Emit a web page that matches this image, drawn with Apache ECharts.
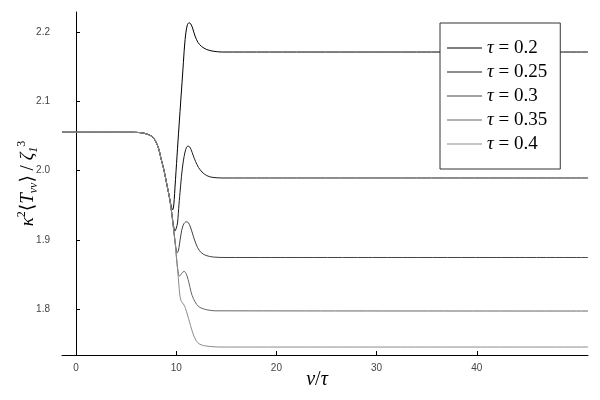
<!DOCTYPE html>
<html>
<head>
<meta charset="utf-8">
<script src="https://cdn.jsdelivr.net/npm/echarts@6/dist/echarts.min.js"></script>
<style>html,body{margin:0;padding:0;background:#fff}#c{width:600px;height:400px}</style>
</head>
<body>
<div id="c"></div>
<script>
// ---- data ----
const xTicks = [0, 10, 20, 30, 40];
const yTicks = [1.8, 1.9, 2.0, 2.1, 2.2];
const tauLabels = ['0.2', '0.25', '0.3', '0.35', '0.4'];
const lineColors = ['#000000', '#1c1c1c', '#444444', '#666666', '#8c8c8c'];

// shared initial plateau and descent (v/tau, value)
const headX = [-1.4, 5.5, 6.5, 7.2, 7.72, 8.22, 8.47, 8.72, 8.9, 9.06];
const headY = [2.0552, 2.0552, 2.0546, 2.0520, 2.0474, 2.0329, 2.0180, 2.0040, 1.9920, 1.9801];

const x020 = [9.28, 9.42, 9.55, 9.64, 9.72, 9.80, 9.88, 10.08, 10.28, 10.48, 10.68, 10.83, 10.96, 11.11, 11.28, 11.46, 11.63, 11.88, 12.18, 12.53, 13.05, 13.68, 14.58, 51.1];
const y020 = [1.9646, 1.9540, 1.9465, 1.9432, 1.9460, 1.9580, 1.9760, 2.0209, 2.0643, 2.1061, 2.1480, 2.1798, 2.1986, 2.2101, 2.2134, 2.2115, 2.2058, 2.1942, 2.1848, 2.1791, 2.1747, 2.1723, 2.1711, 2.1711];

const x025 = [9.28, 9.46, 9.61, 9.74, 9.88, 10.01, 10.13, 10.28, 10.41, 10.56, 10.71, 10.88, 11.03, 11.18, 11.33, 11.48, 11.68, 11.93, 12.23, 12.58, 13.03, 13.58, 14.58, 51.1];
const y025 = [1.9646, 1.9487, 1.9329, 1.9199, 1.9126, 1.9170, 1.9242, 1.9516, 1.9733, 1.9964, 2.0137, 2.0267, 2.0335, 2.0354, 2.0342, 2.0303, 2.0224, 2.0130, 2.0043, 1.9978, 1.9928, 1.9902, 1.9892, 1.9892];

const x030 = [9.28, 9.46, 9.61, 9.76, 9.90, 10.01, 10.11, 10.21, 10.33, 10.48, 10.63, 10.78, 10.93, 11.08, 11.23, 11.38, 11.58, 11.83, 12.13, 12.48, 12.98, 13.68, 14.87, 51.1];
const y030 = [1.9646, 1.9487, 1.9314, 1.9126, 1.8953, 1.8852, 1.8813, 1.8838, 1.8939, 1.9083, 1.9184, 1.9235, 1.9256, 1.9259, 1.9242, 1.9199, 1.9112, 1.8996, 1.8888, 1.8816, 1.8773, 1.8751, 1.8744, 1.8744];

const x035 = [9.28, 9.46, 9.61, 9.76, 9.90, 10.03, 10.15, 10.24, 10.31, 10.41, 10.53, 10.68, 10.81, 10.93, 11.08, 11.28, 11.48, 11.71, 12.05, 12.38, 13.05, 13.88, 51.1];
const y035 = [1.9646, 1.9487, 1.9314, 1.9126, 1.8953, 1.8736, 1.8578, 1.8498, 1.8477, 1.8484, 1.8513, 1.8537, 1.8542, 1.8527, 1.8477, 1.8376, 1.8246, 1.8152, 1.8065, 1.8022, 1.7989, 1.7974, 1.7971];

const x040 = [9.28, 9.46, 9.61, 9.76, 9.90, 10.03, 10.15, 10.26, 10.36, 10.48, 10.63, 10.78, 10.93, 11.13, 11.33, 11.53, 11.73, 11.98, 12.28, 12.71, 13.38, 14.38, 51.1];
const y040 = [1.9646, 1.9487, 1.9314, 1.9126, 1.8953, 1.8736, 1.8549, 1.8361, 1.8202, 1.8123, 1.8087, 1.8058, 1.8007, 1.7913, 1.7812, 1.7711, 1.7624, 1.7545, 1.7498, 1.7473, 1.7459, 1.7451, 1.7451];

const curvesX = [x020, x025, x030, x035, x040];
const curvesY = [y020, y025, y030, y035, y040];

// ---- chart ----
const serif = '"Liberation Serif", "DejaVu Serif", serif';
const sans = '"Liberation Sans", "DejaVu Sans", sans-serif';

function pairs(xs, ys) {
  const hx = headX.concat(xs), hy = headY.concat(ys);
  return hx.map((x, i) => [x, hy[i]]);
}

const series = tauLabels.map((t, k) => ({
  name: 'τ = ' + t,
  type: 'line',
  symbol: 'none',
  showSymbol: false,
  smooth: 0.3,
  color: lineColors[k],
  lineStyle: { width: 1, color: lineColors[k] },
  data: pairs(curvesX[k], curvesY[k])
}));

const chart = echarts.init(document.getElementById('c'), null, { renderer: 'canvas' });
chart.setOption({
  animation: false,
  backgroundColor: '#fff',
  grid: { left: 62, right: 12, top: 12, bottom: 45, containLabel: false, outerBoundsMode: 'none' },
  xAxis: {
    type: 'value', min: -1.4, max: 51.1,
    splitLine: { show: false },
    axisLine: { show: true, lineStyle: { color: '#000', width: 1 } },
    axisTick: { show: true, inside: true, length: 4, customValues: xTicks, lineStyle: { color: '#000' } },
    axisLabel: { customValues: xTicks, margin: 8, fontSize: 10, color: '#444', fontFamily: sans },
    name: '{i|v}{n|/}{i|τ}',
    nameLocation: 'middle', nameGap: 15, nameMoveOverlap: false,
    nameTextStyle: {
      padding: [0, 16, 0, 0],
      rich: {
        i: { fontFamily: serif, fontStyle: 'italic', fontSize: 20, color: '#000' },
        n: { fontFamily: serif, fontSize: 20, color: '#000' }
      }
    }
  },
  yAxis: {
    type: 'value', min: 1.7336, max: 2.2289,
    splitLine: { show: false },
    axisLine: { show: true, lineStyle: { color: '#000', width: 1 } },
    axisTick: { show: true, inside: true, length: 4, customValues: yTicks, lineStyle: { color: '#000' } },
    axisLabel: { customValues: yTicks, margin: 12, fontSize: 10, color: '#444', fontFamily: sans, formatter: v => v.toFixed(1) },
    name: '{i|κ}{sup|2}{n|⟨}{i|T}{sub|vv}{n|⟩ / }{i|ζ}{sub|1}{sup|3}',
    nameLocation: 'middle', nameGap: 22, nameRotate: 90, nameMoveOverlap: false,
    nameTextStyle: {
      rich: {
        i: { fontFamily: serif, fontStyle: 'italic', fontSize: 19, lineHeight: 24, color: '#000' },
        n: { fontFamily: serif, fontSize: 19, lineHeight: 24, color: '#000' },
        sup: { fontFamily: serif, fontSize: 12, lineHeight: 12, verticalAlign: 'top', color: '#000' },
        sub: { fontFamily: serif, fontStyle: 'italic', fontSize: 12, lineHeight: 12, verticalAlign: 'bottom', color: '#000' }
      }
    }
  },
  legend: {
    orient: 'vertical',
    left: 440, top: 23,
    padding: [15, 13, 15, 7],
    itemGap: 4,
    icon: 'rect',
    itemWidth: 35, itemHeight: 1, itemTextGap: 8,
    backgroundColor: '#fff',
    borderColor: '#333', borderWidth: 1, borderRadius: 0,
    data: series.map(s => s.name),
    formatter: name => '{i|τ}{n| = ' + name.split('= ')[1] + '}',
    textStyle: {
      lineHeight: 20,
      rich: {
        i: { fontFamily: serif, fontStyle: 'italic', fontSize: 19, lineHeight: 20, color: '#000' },
        n: { fontFamily: serif, fontSize: 19, lineHeight: 20, color: '#000' }
      }
    }
  },
  series: series
});
</script>
</body>
</html>
